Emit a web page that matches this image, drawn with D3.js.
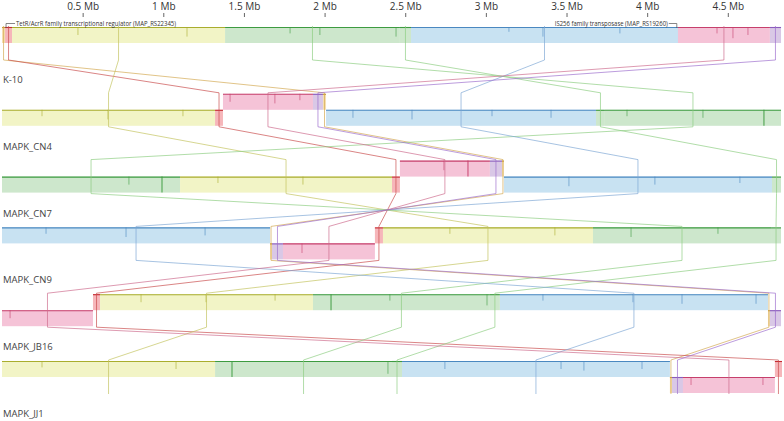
<!DOCTYPE html>
<html>
<head>
<meta charset="utf-8">
<script src="https://cdn.jsdelivr.net/npm/d3@7"></script>
<style>
  html, body { margin: 0; padding: 0; background: #fff; }
  svg { display: block; }
</style>
</head>
<body>
<svg id="chart" width="784" height="421"></svg>
<script>
// ---------------- DATA (Mb) ----------------
const genomes = ["K-10", "MAPK_CN4", "MAPK_CN7", "MAPK_CN9", "MAPK_JB16", "MAPK_JJ1"];
const tickValues = [0.5, 1, 1.5, 2, 2.5, 3, 3.5, 4, 4.5];
const tickUnit = "Mb";

// blocks: [lcb, start Mb, end Mb, strand (1 forward, -1 reverse)]
const blocksK10 = [
  ["tan", 0, 0.019, 1], ["red", 0.019, 0.062, 1], ["yellow", 0.062, 1.383, 1],
  ["greenA", 1.383, 2.467, 1], ["greenB", 2.467, 2.536, 1], ["blue", 2.536, 4.191, 1],
  ["pink", 4.191, 4.761, 1], ["purple", 4.761, 4.830, 1]
];
const blocksCN4 = [
  ["yellow", 0, 1.321, -1], ["red", 1.321, 1.370, -1], ["pink", 1.370, 1.928, 1],
  ["purple", 1.928, 1.990, 1], ["tan", 1.990, 2.009, 1], ["blue", 2.009, 3.683, -1],
  ["greenB", 3.683, 3.738, -1], ["greenA", 3.738, 4.830, -1]
];
const blocksCN7 = [
  ["greenA", 0, 1.104, -1], ["yellow", 1.104, 2.418, -1], ["red", 2.418, 2.467, -1],
  ["pink", 2.467, 3.025, 1], ["purple", 3.025, 3.100, 1], ["tan", 3.100, 3.112, 1],
  ["blue", 3.112, 4.774, -1], ["greenB", 4.774, 4.830, -1]
];
const blocksCN9 = [
  ["blue", 0, 1.662, 1], ["tan", 1.662, 1.674, -1], ["purple", 1.674, 1.742, -1],
  ["pink", 1.742, 2.312, -1], ["red", 2.312, 2.362, 1], ["yellow", 2.362, 3.664, 1],
  ["greenA", 3.664, 4.768, 1], ["greenB", 4.768, 4.830, 1]
];
const blocksJB16 = [
  ["pink", 0, 0.564, -1], ["red", 0.564, 0.608, 1], ["yellow", 0.608, 1.928, 1],
  ["greenA", 1.928, 3.025, 1], ["greenB", 3.025, 3.087, 1], ["blue", 3.087, 4.749, 1],
  ["tan", 4.749, 4.761, -1], ["purple", 4.761, 4.830, -1]
];
const blocksJJ1 = [
  ["yellow", 0, 1.321, 1], ["greenA", 1.321, 2.418, 1], ["greenB", 2.418, 2.480, 1],
  ["blue", 2.480, 4.141, 1], ["tan", 4.141, 4.154, -1], ["purple", 4.154, 4.222, -1],
  ["pink", 4.222, 4.792, -1], ["red", 4.792, 4.836, 1]
];

// similarity-profile dips: [position Mb, depth fraction]
const dipsK10 = [[0.471,0.5],[1.147,0.6],[1.786,0.4],[1.971,0.5],[2.443,0.6],[3.143,0.3],[3.354,0.6],[3.831,0.4],[4.433,0.4],[4.532,0.7],[4.625,0.5]];
const dipsCN4 = [[0.248,0.4],[0.657,0.6],[1.122,0.4],[1.414,0.5],[1.692,0.6],[1.847,0.4],[2.176,0.5],[2.542,0.6],[3.038,0.4],[3.404,0.5],[3.875,0.4],[4.346,0.5],[4.724,1.0]];
const dipsCN7 = [[0.787,0.5],[0.992,1.0],[1.339,0.4],[1.866,0.5],[2.740,0.6],[2.889,1.0],[3.515,0.6],[4.048,0.5],[4.575,0.4]];
const dipsCN9 = [[0.273,0.4],[0.769,0.6],[1.259,0.5],[1.860,0.6],[2.777,0.4],[3.428,0.5],[3.900,0.6],[4.439,0.4]];
const dipsJB16 = [[0.050,0.5],[0.862,0.5],[1.265,0.5],[1.693,0.4],[2.040,1.0],[2.405,0.4],[3.007,0.7],[3.354,0.4],[3.912,0.5],[4.216,0.6],[4.675,0.6]];
const dipsJJ1 = [[0.248,0.4],[1.079,0.5],[1.426,1.0],[2.393,0.8],[2.746,0.5],[3.466,0.5],[3.608,0.6],[3.968,0.5],[4.272,0.5],[4.718,0.5]];

const annotLeft = "TetR/AcrR family transcriptional regulator (MAP_RS22345)";
const annotLeftPos = 0.025;   // Mb
const annotRight = "IS256 family transposase (MAP_RS19260)";
const annotRightPos = 4.19;   // Mb

// ---------------- STYLE ----------------
const palette = {
  tan:    { fill: "#f6dfb0", dark: "#c69a3a", link: "#d2a84e" },
  red:    { fill: "#f6b6ba", dark: "#c42a30", link: "#c84a4a" },
  yellow: { fill: "#f2f4c6", dark: "#a9ad2e", link: "#c2c25c" },
  greenA: { fill: "#cde7cc", dark: "#3d9b40", link: "#8ccc80" },
  greenB: { fill: "#cde7cc", dark: "#3d9b40", link: "#8ccc80" },
  blue:   { fill: "#c8e2f2", dark: "#4a88c0", link: "#7da6d4" },
  pink:   { fill: "#f5c3d7", dark: "#c6406c", link: "#cc6a8c" },
  purple: { fill: "#d9c8e6", dark: "#8a5cbc", link: "#9c6ccc" }
};
const blockH = 16;
const font = "'Open Sans', 'DejaVu Sans', sans-serif";

const allBlocks = [blocksK10, blocksCN4, blocksCN7, blocksCN9, blocksJB16, blocksJJ1];
const allDips = [dipsK10, dipsCN4, dipsCN7, dipsCN9, dipsJB16, dipsJJ1];

const svg = d3.select("#chart");
const x = d3.scaleLinear().domain([0, 4.836]).range([2, 782]);
const y = d3.scalePoint().domain(genomes).range([43, 377]);

// axis
const axis = svg.append("g").attr("transform", "translate(0,17)")
  .call(d3.axisTop(x).tickValues(tickValues).tickSize(4).tickPadding(3)
    .tickFormat(d => d + " " + tickUnit));
axis.select(".domain").remove();
axis.selectAll(".tick line").attr("stroke", "#666");
axis.selectAll(".tick text").attr("font-family", font).attr("font-size", 10).attr("fill", "#333");

// blocks
const blockTop = (c, strand) => strand > 0 ? c - blockH : c;
genomes.forEach((g, gi) => {
  const c = y(g);
  const gg = svg.append("g");
  gg.selectAll("rect").data(allBlocks[gi]).join("rect")
    .attr("x", d => x(d[1])).attr("width", d => x(d[2]) - x(d[1]))
    .attr("y", d => blockTop(c, d[3])).attr("height", blockH)
    .attr("fill", d => palette[d[0]].fill);
  gg.selectAll("line.top").data(allBlocks[gi]).join("line").attr("class", "top")
    .attr("x1", d => x(d[1])).attr("x2", d => x(d[2]))
    .attr("y1", d => blockTop(c, d[3]) + 0.5).attr("y2", d => blockTop(c, d[3]) + 0.5)
    .attr("stroke", d => palette[d[0]].dark).attr("stroke-width", 1.1);
  const dipData = allDips[gi].map(p => {
    const b = allBlocks[gi].find(b => p[0] >= b[1] && p[0] <= b[2]);
    return { p: p[0], depth: p[1], b };
  });
  gg.selectAll("line.dip").data(dipData).join("line").attr("class", "dip")
    .attr("x1", d => x(d.p)).attr("x2", d => x(d.p))
    .attr("y1", d => blockTop(c, d.b[3]))
    .attr("y2", d => blockTop(c, d.b[3]) + d.depth * blockH)
    .attr("stroke", d => palette[d.b[0]].dark).attr("stroke-width", d => d.depth >= 1 ? 1.3 : 0.8)
    .attr("stroke-opacity", 0.75);
  // label
  svg.append("text").attr("x", 3).attr("y", c + 40).text(g)
    .attr("font-family", font).attr("font-size", 9.5).attr("fill", "#444");
});

// connectors (LCB midpoints in each genome)
const lcbs = Object.keys(palette);
const line = d3.line();
lcbs.forEach(id => {
  const pts = [];
  genomes.forEach((g, gi) => {
    const b = allBlocks[gi].find(b => b[0] === id);
    if (!b) return;
    const mx = x((b[1] + b[2]) / 2), c = y(g);
    pts.push([mx, c - blockH - 1], [mx, c + blockH + 1]);
  });
  svg.append("path").attr("d", line(pts)).attr("fill", "none")
    .attr("stroke", palette[id].link).attr("stroke-width", 0.75).attr("stroke-opacity", 0.9);
});

// annotations
const aL = x(annotLeftPos);
svg.append("path").attr("d", `M${aL},28 V23.5 H${aL + 9}`).attr("fill", "none").attr("stroke", "#555").attr("stroke-width", 0.7);
svg.append("text").attr("x", aL + 10).attr("y", 25.5).text(annotLeft)
  .attr("font-family", font).attr("font-size", 7).attr("fill", "#333")
  .attr("textLength", 160).attr("lengthAdjust", "spacingAndGlyphs");
const aR = x(annotRightPos);
svg.append("path").attr("d", `M${aR - 9},23.5 H${aR - 1} V28`).attr("fill", "none").attr("stroke", "#555").attr("stroke-width", 0.7);
svg.append("text").attr("x", aR - 10).attr("y", 25.5).attr("text-anchor", "end").text(annotRight)
  .attr("font-family", font).attr("font-size", 7).attr("fill", "#333")
  .attr("textLength", 113).attr("lengthAdjust", "spacingAndGlyphs");
</script>
</body>
</html>
